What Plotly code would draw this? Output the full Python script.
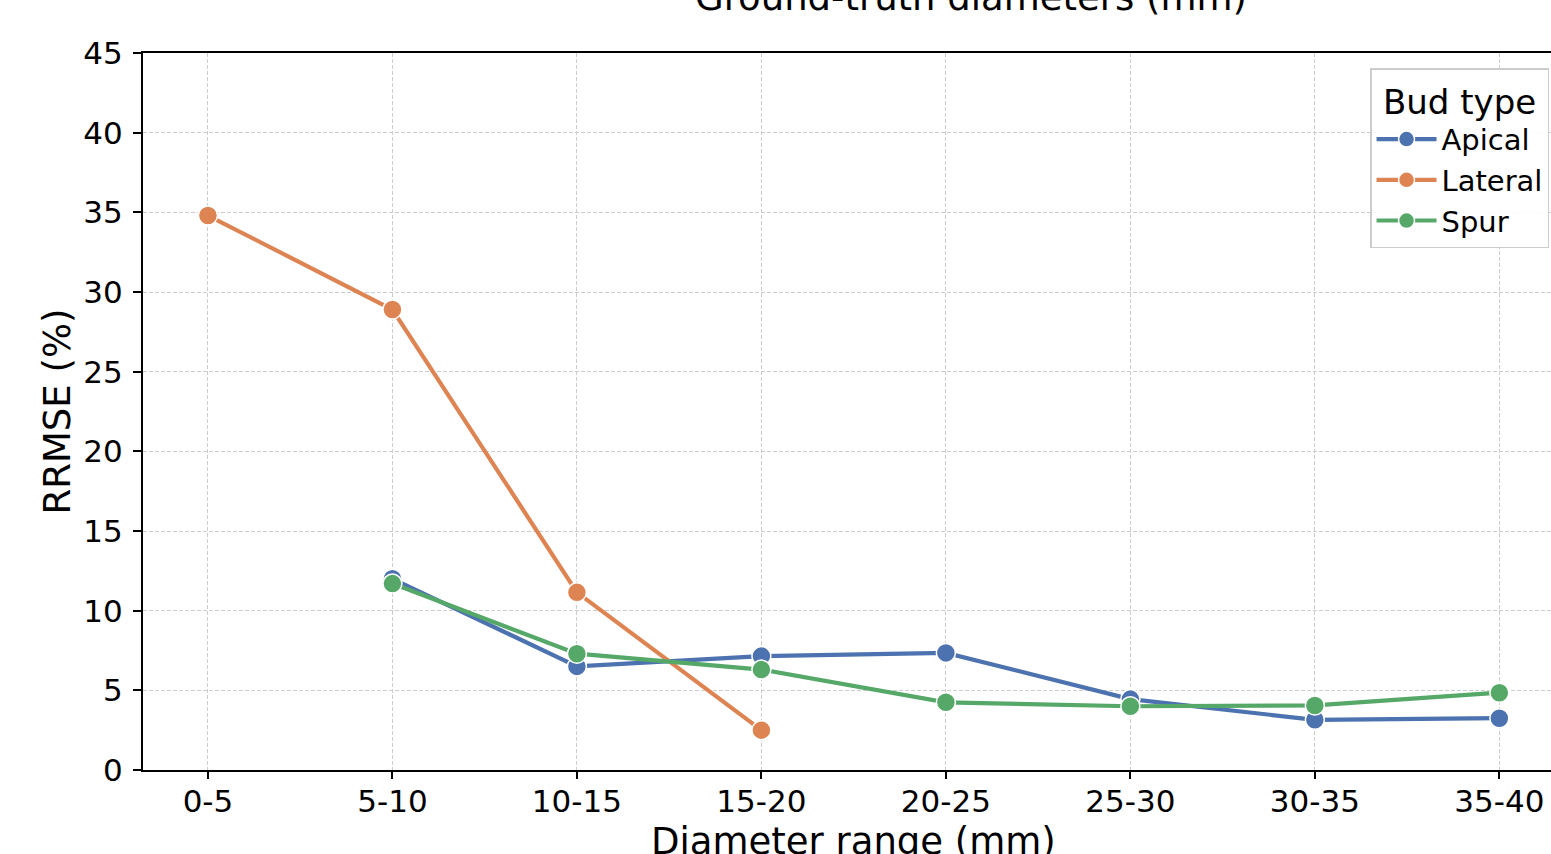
import plotly.graph_objects as go

categories = ["0-5", "5-10", "10-15", "15-20", "20-25", "25-30", "30-35", "35-40"]
apical = [None, 12.0, 6.5, 7.15, 7.35, 4.45, 3.15, 3.25]
lateral = [34.8, 28.9, 11.15, 2.5, None, None, None, None]
spur = [None, 11.7, 7.3, 6.3, 4.25, 4.0, 4.05, 4.85]

series_names = ["Apical", "Lateral", "Spur"]
series_values = [apical, lateral, spur]
colors = ["#4C72B0", "#DD8452", "#55A868"]

y_ticks = [0, 5, 10, 15, 20, 25, 30, 35, 40, 45]

FONT = "DejaVu Sans"

fig = go.Figure()
for name, vals, col in zip(series_names, series_values, colors):
    fig.add_trace(go.Scatter(
        x=categories, y=vals, name=name, mode="lines+markers",
        line=dict(color=col, width=4.2),
        marker=dict(color=col, size=19, line=dict(color="white", width=1.5)),
        connectgaps=False,
    ))

fig.update_layout(
    width=1551, height=854,
    margin=dict(l=143, r=0, t=53, b=84),
    paper_bgcolor="white", plot_bgcolor="white",
    font=dict(family=FONT, size=30, color="black"),
    showlegend=True,
    legend=dict(
        x=0.9986, xanchor="right", y=0.979, yanchor="top",
        bgcolor="rgba(255,255,255,0.9)", bordercolor="#cccccc", borderwidth=1.5,
        font=dict(family=FONT, size=29, color="black"),
        title=dict(text="Bud type", side="top center", font=dict(family=FONT, size=34)),
        itemsizing="trace", tracegroupgap=0, itemwidth=60,
    ),
    xaxis=dict(
        type="category", categoryorder="array", categoryarray=categories,
        range=[-0.352, 7.28], automargin=False,
        showline=True, linecolor="black", linewidth=2, mirror=True,
        ticks="outside", ticklen=7, tickwidth=1.5, tickcolor="black",
        ticklabelstandoff=-4,
        showgrid=True, gridcolor="#cccccc", griddash="4px,2px", gridwidth=1.2,
        tickfont=dict(family=FONT, size=31, color="black"),
        zeroline=False,
    ),
    yaxis=dict(
        range=[0, 45], tickvals=y_ticks, automargin=False,
        showline=True, linecolor="black", linewidth=2, mirror=False,
        ticks="outside", ticklen=8, tickwidth=1.5, tickcolor="black",
        ticklabelstandoff=4,
        showgrid=True, gridcolor="#cccccc", griddash="4px,2px", gridwidth=1.2,
        tickfont=dict(family=FONT, size=31, color="black"),
        zeroline=False,
    ),
    annotations=[
        dict(
            text="Ground-truth diameters (mm)", xref="paper", yref="paper",
            x=(971 - 143) / 1408, y=1, xanchor="center", yanchor="bottom", yshift=32,
            showarrow=False, font=dict(family=FONT, size=37, color="black"),
        ),
        dict(
            text="Diameter range (mm)", xref="paper", yref="paper",
            x=(853 - 143) / 1408, y=0, xanchor="center", yanchor="top", yshift=-48,
            showarrow=False, font=dict(family=FONT, size=37, color="black"),
        ),
        dict(
            text="RRMSE (%)", xref="paper", yref="paper", textangle=-90,
            x=0, y=0.5, xanchor="center", yanchor="middle", xshift=-(143 - 57),
            showarrow=False, font=dict(family=FONT, size=37, color="black"),
        ),
    ],
)

fig.write_html(
    "out.html",
    config={"displayModeBar": False},
    post_script="document.body.style.margin='0';document.body.style.overflow='hidden';",
)
